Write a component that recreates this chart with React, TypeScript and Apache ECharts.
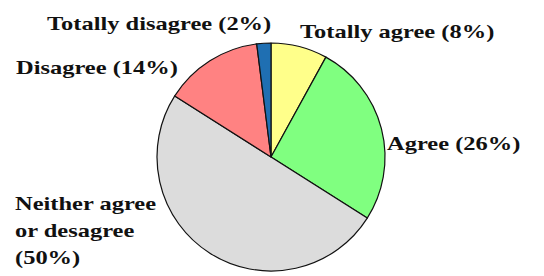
import React, { useEffect, useRef } from "react";
import * as echarts from "echarts";

const categories = ["Totally agree", "Agree", "Neither agree or desagree", "Disagree", "Totally disagree"];
const values = [8, 26, 50, 14, 2];
const colors = ["#FFFF8A", "#80FF80", "#DCDCDC", "#FF8282", "#1F6FB2"];
// label anchor: left x, middle y
const labelPos = [
  [300, 32],
  [387, 144],
  [15, 231],
  [16, 68],
  [47, 24],
];

function labelText(i: number) {
  if (i === 2) return "Neither agree\nor desagree\n(" + values[i] + "%)";
  return categories[i] + " (" + values[i] + "%)";
}

export default function App() {
  const ref = useRef<HTMLDivElement>(null);
  useEffect(() => {
    if (!ref.current) return;
    const chart = echarts.init(ref.current, undefined, { renderer: "svg" });
    chart.setOption({
      animation: false,
      backgroundColor: "#ffffff",
      graphic: categories.map((c, i) => ({
        type: "text",
        x: labelPos[i][0],
        y: labelPos[i][1],
        scaleX: 1.36,
        silent: true,
        style: {
          text: labelText(i),
          font: "bold 18px 'Liberation Serif', 'Times New Roman', serif",
          lineHeight: 27,
          fill: "#111",
          align: "left",
          verticalAlign: "middle",
        },
      })),
      series: [
        {
          type: "pie",
          center: [271, 157],
          radius: 114,
          startAngle: 90,
          clockwise: true,
          data: categories.map((c, i) => ({
            name: c,
            value: values[i],
            itemStyle: { color: colors[i] },
          })),
          itemStyle: { borderColor: "#111", borderWidth: 1.2 },
          label: { show: false },
          labelLine: { show: false },
          emphasis: { disabled: true },
        },
      ],
    });
    return () => chart.dispose();
  }, []);
  return <div ref={ref} style={{ position: "fixed", left: 0, top: 0, width: 544, height: 276 }} />;
}
